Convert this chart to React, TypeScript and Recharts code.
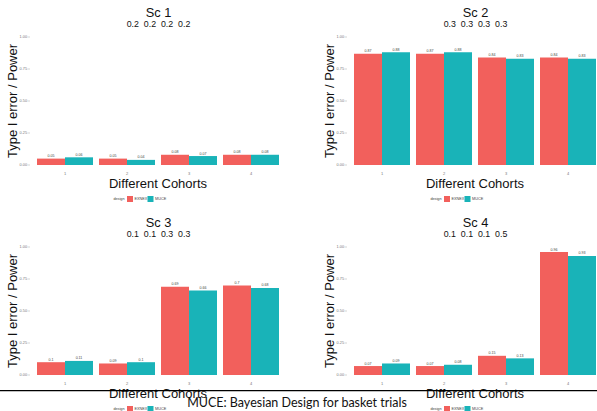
import React from "react";
import { BarChart, Bar, XAxis, YAxis, LabelList } from "recharts";

const cohorts = ["1", "2", "3", "4"];
const scenarios = ["Sc 1", "Sc 2", "Sc 3", "Sc 4"];
const truths = ["0.2  0.2  0.2  0.2", "0.3  0.3  0.3  0.3", "0.1  0.1  0.3  0.3", "0.1  0.1  0.1  0.5"];

const exnexSc1 = [0.05, 0.05, 0.08, 0.08];
const muceSc1 = [0.06, 0.04, 0.07, 0.08];
const exnexSc2 = [0.87, 0.87, 0.84, 0.84];
const muceSc2 = [0.88, 0.88, 0.83, 0.83];
const exnexSc3 = [0.1, 0.09, 0.69, 0.7];
const muceSc3 = [0.11, 0.1, 0.66, 0.68];
const exnexSc4 = [0.07, 0.07, 0.15, 0.96];
const muceSc4 = [0.09, 0.08, 0.13, 0.93];

const yTicks = [0, 0.25, 0.5, 0.75, 1];

const RED = "#F2605C";
const TEAL = "#19B3B8";
const FONT = "'Liberation Sans', Arial, sans-serif";

const PW = 316.5;
const PH = 210;

const YTick = ({ x, y, payload }: any) => (
  <g>
    <text x={x - 7} y={y} dy={1.4} textAnchor="end" fontSize={3.8} fill="#777" fontFamily={FONT}>
      {Number(payload.value).toFixed(2)}
    </text>
    <line x1={x - 6.5} x2={x - 4} y1={y} y2={y} stroke="#aaa" strokeWidth={0.5} />
  </g>
);

function Panel({ left, top, title, truth, exnex, muce }: any) {
  const data = cohorts.map((c, i) => ({ cohort: c, EXNEX: exnex[i], MUCE: muce[i] }));
  return (
    <div style={{ position: "absolute", left, top, width: 317, height: PH }}>
      <BarChart
        width={317}
        height={PH}
        data={data}
        margin={{ top: 37, right: 35, bottom: 25, left: 0 }}
        barCategoryGap={3}
        barGap={0}
      >
        <XAxis
          dataKey="cohort"
          height={20}
          axisLine={false}
          tickLine={false}
          tickSize={0}
          tickMargin={7}
          tick={{ fontSize: 4, fill: "#777", fontFamily: FONT }}
        />
        <YAxis
          width={34}
          domain={[0, 1]}
          ticks={yTicks}
          axisLine={false}
          tickLine={false}
          tickSize={0}
          tickMargin={0}
          tick={<YTick />}
        />
        <Bar dataKey="EXNEX" fill={RED} isAnimationActive={false}>
          <LabelList dataKey="EXNEX" position="top" offset={1.5} fontSize={3.6} fill="#444" fontFamily={FONT} />
        </Bar>
        <Bar dataKey="MUCE" fill={TEAL} isAnimationActive={false}>
          <LabelList dataKey="MUCE" position="top" offset={1.5} fontSize={3.6} fill="#444" fontFamily={FONT} />
        </Bar>
      </BarChart>
      <svg
        width={317}
        height={PH}
        style={{ position: "absolute", left: 0, top: 0, pointerEvents: "none", overflow: "visible" }}
        fontFamily={FONT}
      >
        <text x={158.5} y={17.2} textAnchor="middle" fontSize={12.8} fill="#111">{title}</text>
        <text x={158.5} y={27.2} textAnchor="middle" fontSize={8.8} fill="#111" style={{ whiteSpace: "pre" }}>{truth}</text>
        <text transform="translate(16.5,101) rotate(-90)" textAnchor="middle" fontSize={13} fill="#111">
          Type I error / Power
        </text>
        <text x={158} y={188} textAnchor="middle" fontSize={13} fill="#111">Different Cohorts</text>
        <text x={119} y={200.3} textAnchor="middle" fontSize={3.8} fill="#444">design</text>
        <rect x={127} y={196} width={6} height={6} fill={RED} />
        <text x={134.5} y={200.3} fontSize={3.8} fill="#444">EXNEX</text>
        <rect x={147.5} y={196} width={6} height={6} fill={TEAL} />
        <text x={155} y={200.3} fontSize={3.8} fill="#444">MUCE</text>
      </svg>
    </div>
  );
}

export default function App() {
  return (
    <div style={{ position: "absolute", left: 0, top: 0, width: 597, height: 411, overflow: "hidden", background: "#fff" }}>
      <Panel left={0} top={0} title={scenarios[0]} truth={truths[0]} exnex={exnexSc1} muce={muceSc1} />
      <Panel left={PW} top={0} title={scenarios[1]} truth={truths[1]} exnex={exnexSc2} muce={muceSc2} />
      <Panel left={0} top={PH} title={scenarios[2]} truth={truths[2]} exnex={exnexSc3} muce={muceSc3} />
      <Panel left={PW} top={PH} title={scenarios[3]} truth={truths[3]} exnex={exnexSc4} muce={muceSc4} />
      <svg width={597} height={411} style={{ position: "absolute", left: 0, top: 0, pointerEvents: "none" }}>
        <line x1={0} x2={597} y1={390.7} y2={390.7} stroke="#000" strokeWidth={1.2} />
        <text x={297} y={406.5} textAnchor="middle" fontSize={12.5} fill="#111" fontFamily="Lato, 'Open Sans', sans-serif">
          MUCE: Bayesian Design for basket trials
        </text>
      </svg>
    </div>
  );
}
